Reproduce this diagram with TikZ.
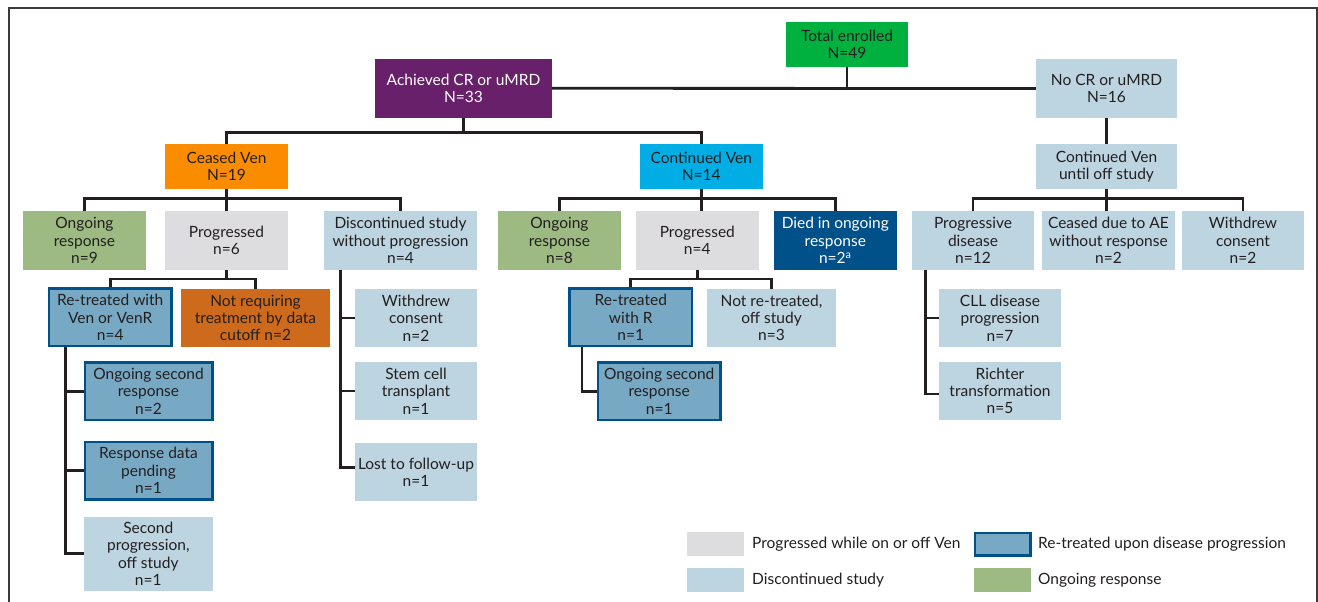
\documentclass[tikz,border=0pt]{standalone}
\usepackage{fontspec}
\setmainfont{Lato}
\usetikzlibrary{calc}
\definecolor{ink}{HTML}{231F20}
\definecolor{cgreen}{HTML}{00B13F}
\definecolor{cpurple}{HTML}{68206A}
\definecolor{clblue}{HTML}{BDD4E1}
\definecolor{corange}{HTML}{FB8C00}
\definecolor{ccyan}{HTML}{00ADE4}
\definecolor{cgrn}{HTML}{9DBA83}
\definecolor{cgrey}{HTML}{DDDDDF}
\definecolor{cdblue}{HTML}{00518A}
\definecolor{cmblue}{HTML}{78A9C4}
\definecolor{corng}{HTML}{CD6A1B}
\definecolor{frame}{HTML}{3A3A3A}
\begin{document}
\begin{tikzpicture}[x=1pt,y=-1pt,
  font=\fontsize{15.5}{17.3}\selectfont,
  box/.style={rectangle, inner sep=0.5pt, align=center, text=ink, anchor=center},
  bx/.style 2 args={minimum width=#1pt, minimum height=#2pt},
  lb/.style={box, fill=clblue},
  rt/.style={box, fill=cmblue, draw=cdblue, line width=2.6pt},
  conn/.style={draw=ink, line width=2.8pt},
  lgtext/.style={anchor=west, inner sep=0pt, text=ink}]
\useasboundingbox (0,0) rectangle (1318,602);
\fill[white] (0,0) rectangle (1318,602);
\draw[line width=2pt, frame] (8.5,604) -- (8.5,8.5) -- (1316.5,8.5) -- (1316.5,604);

% level 0-1
\node[box, fill=cgreen, bx={122}{45}] (total) at (847,44.5) {Total enrolled\\N=49};
\node[box, fill=cpurple, text=white, bx={177}{58.5}] (achv) at (463.5,88.3) {Achieved CR or uMRD\\N=33};
\node[lb, bx={141}{59}] (nocr) at (1106.5,88.5) {No CR or uMRD\\N=16};
% level 2
\node[box, fill=corange, bx={123}{44.7}] (ceased) at (226.5,166.3) {Ceased Ven\\N=19};
\node[box, fill=ccyan, bx={123}{44.7}] (contv) at (701.3,166.3) {Continued Ven\\N=14};
\node[lb, bx={141}{44.7}] (until) at (1106.5,166.3) {Continued Ven\\until off study};
% level 3
\node[box, fill=cgrn, bx={123}{58.5}] (ong9) at (84.5,240.5) {Ongoing\\response\\n=9};
\node[box, fill=cgrey, bx={123}{58.5}] (prog6) at (226.5,240.5) {Progressed\\n=6};
\node[lb, bx={153}{58.5}] (disc) at (400.5,240.5) {Discontinued study\\without progression\\n=4};
\node[box, fill=cgrn, bx={123}{58.5}] (ong8) at (559.5,240.5) {Ongoing\\response\\n=8};
\node[box, fill=cgrey, bx={123}{58.5}] (prog4) at (697.3,240.5) {Progressed\\n=4};
\node[box, fill=cdblue, text=white, bx={123}{58.5}] (died) at (835.3,240.5) {Died in ongoing\\response\\n=2\textsuperscript{a}};
\node[lb, bx={122}{58.5}] (progd) at (973,240.5) {Progressive\\disease\\n=12};
\node[lb, bx={133}{58.5}] (ae) at (1108.5,240.5) {Ceased due to AE\\without response\\n=2};
\node[lb, bx={122}{58.5}] (wdr) at (1243,240.5) {Withdrew\\consent\\n=2};
% level 4
\node[rt, bx={122.4}{57.4}] (retven) at (110.2,317.3) {Re-treated with\\Ven or VenR\\n=4};
\node[box, fill=corng, bx={149}{58}] (notreq) at (255.5,317.8) {Not requiring\\treatment by data\\cutoff n=2};
\node[lb, bx={122}{58}] (wd2) at (416,318) {Withdrew\\consent\\n=2};
\node[lb, bx={122}{58}] (stem) at (416,391) {Stem cell\\transplant\\n=1};
\node[lb, bx={122}{58}] (lost) at (416,472) {Lost to follow-up\\n=1};
\node[rt, bx={127.4}{57.4}] (ong2) at (148.5,391.2) {Ongoing second\\response\\n=2};
\node[rt, bx={127.4}{57.4}] (pend) at (148.5,470.5) {Response data\\pending\\n=1};
\node[lb, bx={129}{74}] (sec2) at (148.3,553.8) {Second\\progression,\\off study\\n=1};
\node[rt, bx={122.4}{57.4}] (retR) at (630.8,317.3) {Re-treated\\with R\\n=1};
\node[lb, bx={129}{58}] (notre) at (771.5,318) {Not re-treated,\\off study\\n=3};
\node[rt, bx={122.4}{57.4}] (ong1) at (659.2,391.2) {Ongoing second\\response\\n=1};
\node[lb, bx={122}{58}] (cll) at (1000,318) {CLL disease\\progression\\n=7};
\node[lb, bx={122}{58}] (richter) at (1000,391) {Richter\\transformation\\n=5};

% legend
\node[box, fill=cgrey, bx={57}{24}] (lg1) at (715.5,544) {};
\node[lgtext] (lg1t) at (752,544) {Progressed while on or off Ven};
\node[rt, bx={55.4}{22.4}] (lg2) at (1002.5,544) {};
\node[lgtext] (lg2t) at (1038,544) {Re-treated upon disease progression};
\node[lb, bx={57}{24}] (lg3) at (715.5,580) {};
\node[lgtext] (lg3t) at (752,580) {Discontinued study};
\node[box, fill=cgrn, bx={57}{24}] (lg4) at (1002.5,580) {};
\node[lgtext] (lg4t) at (1038,580) {Ongoing response};

% connectors
\draw[conn] (total.south) -- (total.south |- achv.east);
\draw[conn] (achv.east) -- (nocr.west);
\coordinate (b1) at ($(achv.south)+(0,14.5)$);
\draw[conn] (achv.south) -- (b1);
\draw[conn] (ceased.north) |- (b1) -| (contv.north);
\draw[conn] (nocr.south) -- (until.north);

\draw[conn] (ceased.south) -- (prog6.north);
\draw[conn] (ong9.north) -- ++(0,-12.5) -| (disc.north);
\draw[conn] (contv.south) -- (contv.south |- prog4.north);
\draw[conn] (ong8.north) -- ++(0,-12.5) -| (died.north);
\draw[conn] (until.south) -- (until.south |- progd.north);
\draw[conn] (progd.north) -- ++(0,-12.5) -| (wdr.north);

\coordinate (b6) at ($(prog6.south)+(0,9)$);
\draw[conn] (prog6.south) -- (b6);
\draw[conn] (retven.north) |- (b6) -| (notreq.north);
\coordinate (b4) at ($(prog4.south)+(0,9)$);
\draw[conn] (prog4.south) -- (b4);
\draw[conn] (retR.north) |- (b4) -| (notre.north);

\coordinate (ds) at ([xshift=17pt]disc.south west);
\draw[conn] (ds) |- (wd2.west);
\draw[conn] (ds) |- (stem.west);
\draw[conn] (ds) |- ([yshift=4.5pt]lost.west);

\coordinate (rs) at ([xshift=18pt]retven.south west);
\draw[conn] (rs) |- (ong2.west);
\draw[conn] (rs) |- (pend.west);
\draw[conn] (rs) |- (sec2.west);

\coordinate (rrs) at ([xshift=13.7pt]retR.south west);
\draw[conn] (rrs) |- (ong1.west);

\coordinate (ps) at ([xshift=13.7pt]progd.south west);
\draw[conn] (ps) |- (cll.west);
\draw[conn] (ps) |- ([yshift=-3pt]richter.west);
\end{tikzpicture}
\end{document}
